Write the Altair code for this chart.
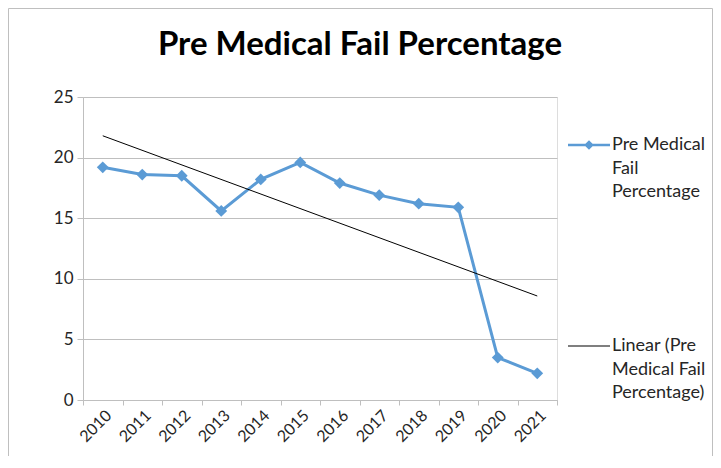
import altair as alt
import pandas as pd

years = [2010, 2011, 2012, 2013, 2014, 2015, 2016, 2017, 2018, 2019, 2020, 2021]
values = [19.2, 18.6, 18.5, 15.6, 18.2, 19.6, 17.9, 16.9, 16.2, 15.9, 3.5, 2.2]
series_names = ["Pre Medical Fail Percentage", "Linear (Pre Medical Fail Percentage)"]
series_colors = ["#5B9BD5", "#000000"]
y_ticks = [0, 5, 10, 15, 20, 25]
chart_title = "Pre Medical Fail Percentage"

df = pd.DataFrame({"year": years, "pct": values, "series": series_names[0]})

FONT = "Lato"
OFF = 0.43


def bar_path(half):
    return f"M-1,{OFF-half:.3f}L1,{OFF-half:.3f}L1,{OFF+half:.3f}L-1,{OFF+half:.3f}Z"


LINE_PATH = bar_path(0.024)
DIAMOND_PATH = bar_path(0.06) + (
    f"M-0.23,{OFF}L0,{OFF-0.23:.2f}L0.23,{OFF}L0,{OFF+0.23:.2f}Z"
)

x_enc = alt.X(
    "year:O",
    scale=alt.Scale(domain=years, paddingInner=0, paddingOuter=0),
    axis=alt.Axis(
        title=None, labelAngle=-45, labelAlign="right", labelBaseline="top",
        tickBand="extent", labelFont=FONT, labelFontSize=16, labelColor="#262626",
        domainColor="#bfbfbf", tickColor="#bfbfbf", tickSize=5, labelPadding=2,
        grid=False,
    ),
)
y_enc = alt.Y(
    "pct:Q",
    scale=alt.Scale(domain=[0, 25]),
    axis=alt.Axis(
        title=None, values=y_ticks, labelFont=FONT, labelFontSize=17,
        labelColor="#262626", domainColor="#bfbfbf", tickColor="#bfbfbf",
        tickSize=6, gridColor="#bfbfbf", grid=True, labelPadding=4,
    ),
)

base = alt.Chart(df)

line = base.mark_line(color=series_colors[0], strokeWidth=3).encode(x=x_enc, y=y_enc)

points = base.mark_point(
    filled=True, size=140, opacity=1, shape="diamond", color=series_colors[0]
).encode(x=x_enc, y=y_enc)

label_expr = (
    "datum.value == '" + series_names[0] + "' ? ['Pre Medical', 'Fail', 'Percentage'] : "
    "['Linear (Pre', 'Medical Fail', 'Percentage)']"
)

legend = alt.Legend(
    title=None, orient="none", legendX=485, legendY=18,
    symbolSize=1764, symbolOpacity=1, symbolStrokeWidth=0,
    labelExpr=label_expr, labelLimit=0,
    labelFont=FONT, labelFontSize=18, labelColor="#262626",
    labelBaseline="top", rowPadding=115, padding=0, labelOffset=2,
)

legend_layer = base.mark_point(filled=True, opacity=0).encode(
    x=x_enc,
    y=y_enc,
    color=alt.Color("series:N", scale=alt.Scale(domain=series_names, range=series_colors), legend=legend),
    shape=alt.Shape("series:N", scale=alt.Scale(domain=series_names, range=[DIAMOND_PATH, LINE_PATH]), legend=legend),
)

trend = base.transform_regression("year", "pct").mark_line(
    color="black", strokeWidth=1
).encode(x=x_enc, y=y_enc)

border = alt.Chart(pd.DataFrame({"b": [0]})).mark_rect(
    fill="white", fillOpacity=0, stroke="#bfbfbf", strokeWidth=1, clip=False
).encode(
    x=alt.value(-74.5), x2=alt.value(629.5), y=alt.value(-88.5), y2=alt.value(420)
)

chart = alt.layer(border, line, trend, points, legend_layer).properties(
    width=474,
    height=303,
    title=alt.TitleParams(
        chart_title, font=FONT, fontSize=33, fontWeight="bold", color="#000000",
        anchor="middle", dx=40, offset=-80, baseline="alphabetic",
    ),
    autosize=alt.AutoSizeParams(type="none"),
    padding={"left": 75, "top": 89, "right": 156, "bottom": 56},
).configure_view(stroke="transparent").configure(
    background="white", style={"guide-label": {"lineHeight": 23.5}}
)

chart.save("out.html", embed_options={"renderer": "svg", "actions": False})
